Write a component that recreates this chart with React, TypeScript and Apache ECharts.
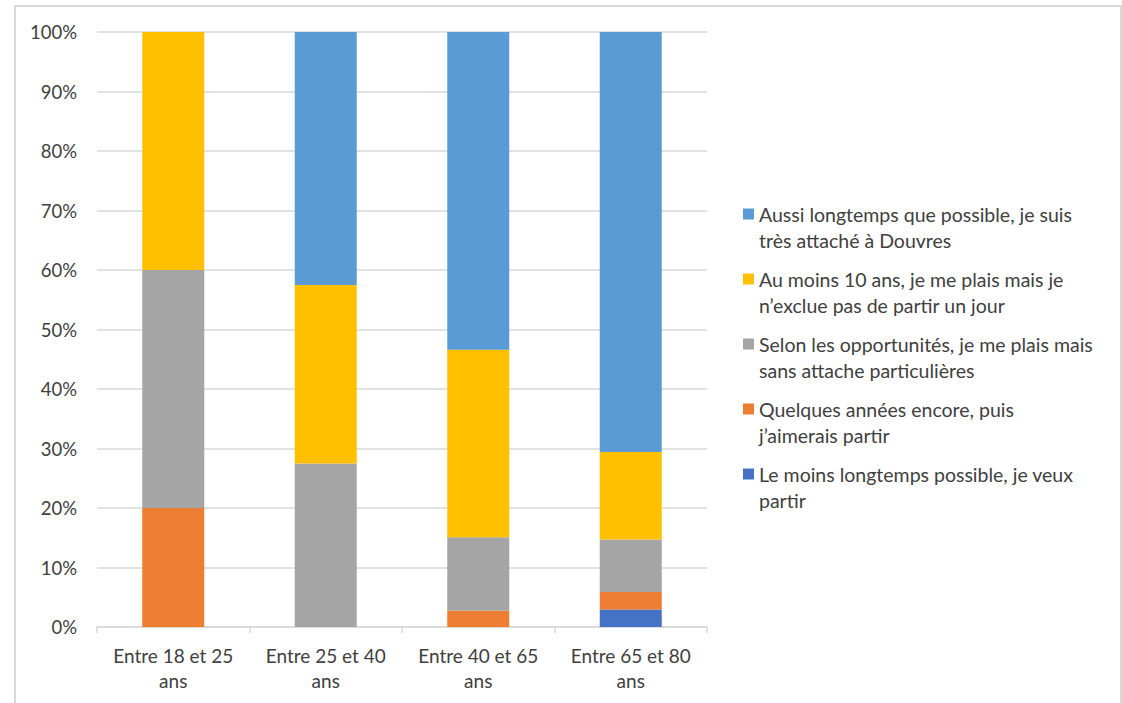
import React, { useEffect, useRef } from "react";
import * as echarts from "echarts";

const categories = ["Entre 18 et 25\nans", "Entre 25 et 40\nans", "Entre 40 et 65\nans", "Entre 65 et 80\nans"];
const seriesNames = [
  "Le moins longtemps possible, je veux\npartir",
  "Quelques années encore, puis\nj’aimerais partir",
  "Selon les opportunités, je me plais mais\nsans attache particulières",
  "Au moins 10 ans, je me plais mais je\nn’exclue pas de partir un jour",
  "Aussi longtemps que possible, je suis\ntrès attaché à Douvres",
];
const leMoins = [0, 0, 0, 2.94];
const quelques = [20, 0, 2.74, 2.94];
const selon = [40, 27.5, 12.33, 8.82];
const auMoins = [40, 30, 31.51, 14.71];
const aussi = [0, 42.5, 53.42, 70.59];
const colors = ["#4472C4", "#ED7D31", "#A5A5A5", "#FFC000", "#5B9BD5"];
const yTicks = [0, 10, 20, 30, 40, 50, 60, 70, 80, 90, 100];

const FONT = "Lato, 'Open Sans', sans-serif";

export default function App() {
  const ref = useRef<HTMLDivElement>(null);
  useEffect(() => {
    if (!ref.current) return;
    const chart = echarts.init(ref.current, null, { renderer: "svg" });
    const values = [leMoins, quelques, selon, auMoins, aussi];
    chart.setOption({
      animation: false,
      backgroundColor: "#ffffff",
      textStyle: { fontFamily: FONT },
      graphic: [
        {
          type: "rect",
          shape: { x: 15, y: 6, width: 1106, height: 720 },
          style: { fill: "none", stroke: "#d9d9d9", lineWidth: 2 },
          silent: true,
        },
      ],
      grid: { left: 97, right: 415, top: 32, bottom: 76 },
      legend: {
        orient: "vertical",
        left: 743,
        top: 201,
        padding: 0,
        itemGap: 13,
        itemWidth: 11,
        itemHeight: 37,
        icon: "path://M0,0H11V11H0Z M0,37H0.01V37.01H0Z",
        data: [...seriesNames].reverse(),
        textStyle: {
          fontFamily: FONT,
          fontSize: 19.5,
          color: "#404040",
          lineHeight: 26,
        },
      },
      xAxis: {
        type: "category",
        data: categories,
        axisLine: { lineStyle: { color: "#d9d9d9", width: 1.5 } },
        axisTick: { show: true, length: 6, lineStyle: { color: "#d9d9d9", width: 1.5 } },
        axisLabel: {
          fontFamily: FONT,
          fontSize: 19,
          color: "#404040",
          lineHeight: 25,
          margin: 16,
          interval: 0,
        },
      },
      yAxis: {
        type: "value",
        min: 0,
        max: 100,
        interval: 10,
        axisLine: { show: false },
        axisTick: { show: false },
        splitLine: { lineStyle: { color: "#d9d9d9", width: 1.5 } },
        axisLabel: {
          fontFamily: FONT,
          fontSize: 18.5,
          color: "#404040",
          margin: 20,
          formatter: (v: number) => (yTicks.includes(v) ? `${v}%` : ""),
        },
      },
      series: seriesNames.map((name, i) => ({
        name,
        type: "bar",
        stack: "total",
        barWidth: 62,
        data: values[i],
        itemStyle: { color: colors[i] },
      })),
    });
    return () => chart.dispose();
  }, []);
  return (
    <div
      ref={ref}
      style={{ position: "fixed", left: 0, top: 0, width: 1122, height: 703 }}
    />
  );
}
